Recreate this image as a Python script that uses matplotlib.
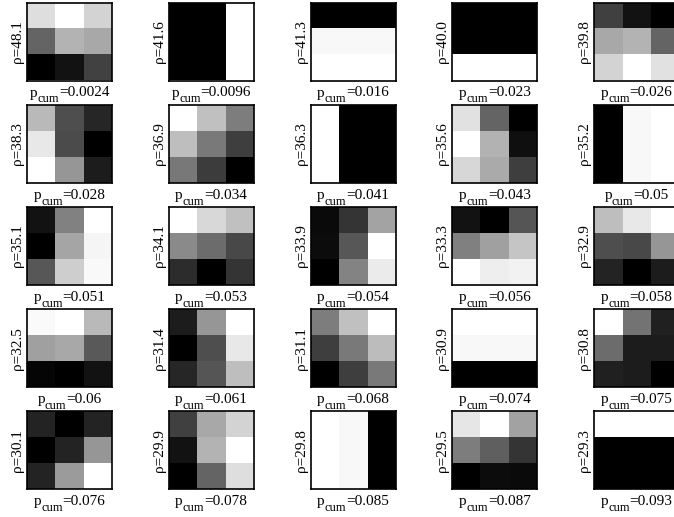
import matplotlib.pyplot as plt
import numpy as np

# correlation and cumulative p-value per patch
rho = [48.1, 41.6, 41.3, 40.0, 39.8,
       38.3, 36.9, 36.3, 35.6, 35.2,
       35.1, 34.1, 33.9, 33.3, 32.9,
       32.5, 31.4, 31.1, 30.9, 30.8,
       30.1, 29.9, 29.8, 29.5, 29.3]
p_cum = ["0.0024", "0.0096", "0.016", "0.023", "0.026",
         "0.028", "0.034", "0.041", "0.043", "0.05",
         "0.051", "0.053", "0.054", "0.056", "0.058",
         "0.06", "0.061", "0.068", "0.074", "0.075",
         "0.076", "0.078", "0.085", "0.087", "0.093"]

# 3x3 patches, gray levels 0-255 (rows top to bottom)
patches = [
    [[222, 255, 212], [100, 180, 168], [0, 18, 65]],
    [[0, 0, 255], [0, 0, 255], [0, 0, 255]],
    [[0, 0, 0], [248, 248, 248], [255, 255, 255]],
    [[0, 0, 0], [0, 0, 0], [255, 255, 255]],
    [[64, 18, 0], [168, 180, 100], [212, 255, 225]],
    [[185, 78, 38], [232, 75, 0], [255, 150, 28]],
    [[255, 192, 125], [190, 122, 62], [120, 60, 0]],
    [[255, 0, 0], [255, 0, 0], [255, 0, 0]],
    [[225, 100, 0], [255, 178, 15], [215, 170, 62]],
    [[0, 248, 255], [0, 248, 255], [0, 248, 255]],
    [[18, 125, 248], [0, 160, 238], [85, 200, 242]],
    [[255, 216, 192], [138, 108, 72], [44, 0, 52]],
    [[10, 52, 160], [12, 85, 250], [0, 128, 230]],
    [[18, 0, 85], [128, 160, 197], [255, 238, 242]],
    [[190, 232, 255], [78, 72, 150], [35, 0, 28]],
    [[250, 255, 185], [160, 168, 90], [5, 0, 18]],
    [[28, 150, 255], [0, 78, 232], [38, 85, 190]],
    [[125, 192, 255], [62, 122, 188], [0, 62, 122]],
    [[255, 255, 255], [248, 248, 248], [0, 0, 0]],
    [[255, 115, 32], [108, 28, 28], [32, 28, 0]],
    [[35, 0, 35], [0, 35, 150], [35, 155, 255]],
    [[64, 168, 212], [18, 180, 255], [0, 100, 222]],
    [[255, 248, 0], [255, 248, 0], [255, 248, 0]],
    [[230, 255, 162], [125, 95, 52], [0, 12, 10]],
    [[255, 255, 255], [0, 0, 0], [0, 0, 0]],
]

plt.rcParams["font.family"] = ["Liberation Serif", "DejaVu Serif"]

W, H = 674, 517
fig = plt.figure(figsize=(W / 100, H / 100), dpi=100)
renderer = fig.canvas.get_renderer()

ax_w, ax_h = 85, 78
for i in range(25):
    r, c = divmod(i, 5)
    left = 27 + 141.75 * c
    top = 2.5 + 102.2 * r
    ax = fig.add_axes([left / W, (H - top - ax_h) / H, ax_w / W, ax_h / H])
    ax.imshow(np.array(patches[i], dtype=float), cmap="gray",
              interpolation="nearest", aspect="auto")
    ax.set_xticks([])
    ax.set_yticks([])
    for sp in ax.spines.values():
        sp.set_linewidth(1.2)
    ax.set_ylabel(f"ρ={rho[i]:.1f}", fontsize=11, labelpad=2)

    # "p" with a low "cum" subscript, then "=value", centred under the patch
    parts = [("p", 11, 0), ("cum", 9, -6), ("=" + p_cum[i], 11, 0)]
    texts = [fig.text(0, 0, s, fontsize=fs, va="baseline") for s, fs, _ in parts]
    widths = [t.get_window_extent(renderer).width for t in texts]
    x = left + ax_w / 2 - sum(widths) / 2
    base = H - (top + 94)
    for t, (_, _, dy), w in zip(texts, parts, widths):
        t.set_position((x / W, (base + dy) / H))
        x += w

fig.savefig("out.png", dpi=100)
